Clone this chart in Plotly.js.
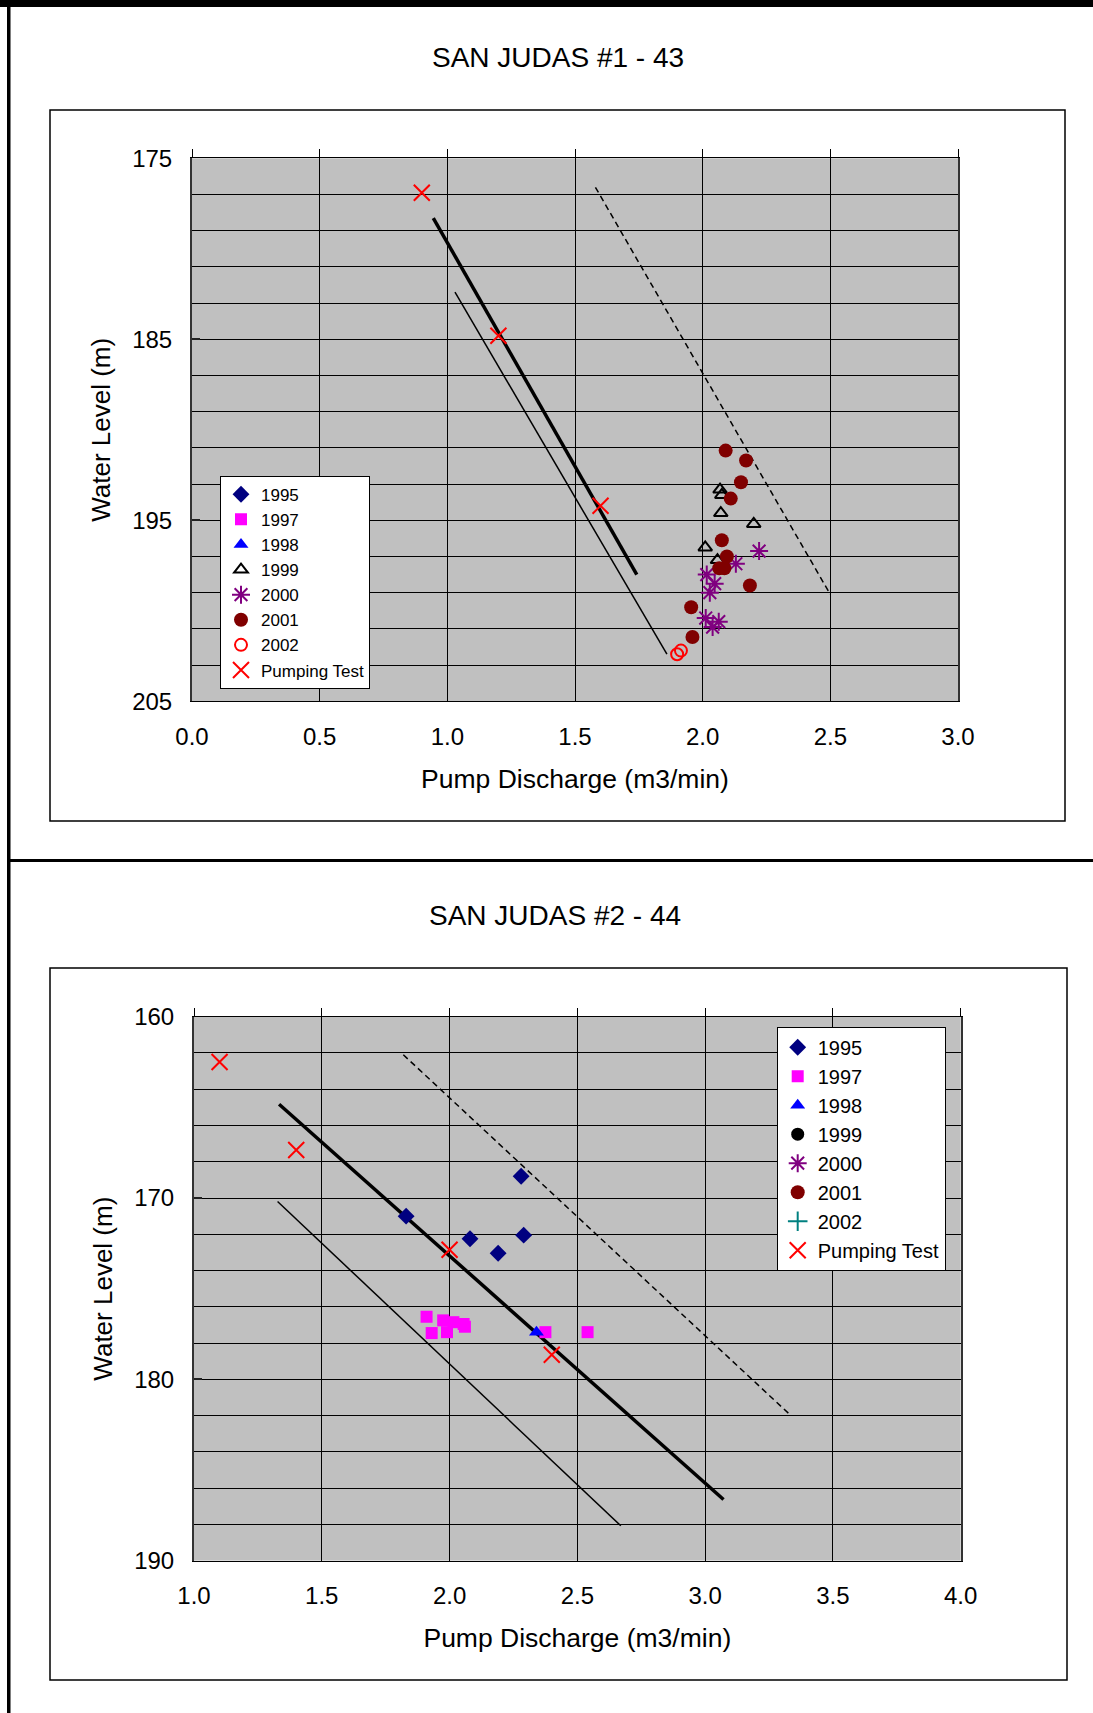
<!DOCTYPE html>
<html>
<head>
<meta charset="utf-8">
<script src="https://cdn.plot.ly/plotly-3.0.1.min.js"></script>
<style>
  html, body { margin: 0; padding: 0; background: #fff; }
  #chart { width: 1093px; height: 1713px; }
</style>
</head>
<body>
<div id="chart"></div>
<script>
// ---------- Chart 1: SAN JUDAS #1 - 43 ----------
const c1_title = "SAN JUDAS #1 - 43";
// series shown only in the legend (no observations on this chart)
const c1_1995_x = [null];
const c1_1995_y = [null];
const c1_1997_x = [null];
const c1_1997_y = [null];
const c1_1998_x = [null];
const c1_1998_y = [null];
const c1_1999_x = [2.068, 2.075, 2.071, 2.20, 2.010, 2.058];
const c1_1999_y = [193.3, 193.6, 194.6, 195.2, 196.5, 197.2];
const c1_2000_x = [2.221, 2.130, 2.016, 2.047, 2.028, 2.012, 2.063, 2.039];
const c1_2000_y = [196.7, 197.4, 198.0, 198.5, 199.0, 200.4, 200.6, 200.9];
const c1_2001_x = [2.09, 2.17, 2.15, 2.11, 2.075, 2.095, 2.065, 2.085, 2.185, 1.955, 1.96];
const c1_2001_y = [191.15, 191.7, 192.9, 193.8, 196.1, 197.0, 197.65, 197.65, 198.6, 199.8, 201.45];
const c1_2002_x = [1.90, 1.915];
const c1_2002_y = [202.4, 202.2];
const c1_test_x = [0.90, 1.20, 1.60];
const c1_test_y = [176.9, 184.8, 194.2];
const c1_thick_x = [0.945, 1.742];
const c1_thick_y = [178.3, 198.0];
const c1_thin_x = [1.03, 1.86];
const c1_thin_y = [182.4, 202.4];
const c1_dash_x = [1.58, 2.50];
const c1_dash_y = [176.6, 199.1];

// ---------- Chart 2: SAN JUDAS #2 - 44 ----------
const c2_title = "SAN JUDAS #2 - 44";
const c2_1995_x = [2.28, 1.83, 2.08, 2.29, 2.19];
const c2_1995_y = [168.8, 171.0, 172.25, 172.05, 173.05];
const c2_1997_x = [1.91, 1.93, 1.975, 1.99, 2.015, 2.055, 2.06, 2.375, 2.54];
const c2_1997_y = [176.55, 177.45, 176.75, 177.4, 176.85, 176.95, 177.1, 177.4, 177.4];
const c2_1998_x = [2.34];
const c2_1998_y = [177.4];
// series shown only in the legend (no observations on this chart)
const c2_1999_x = [null];
const c2_1999_y = [null];
const c2_2000_x = [null];
const c2_2000_y = [null];
const c2_2001_x = [null];
const c2_2001_y = [null];
const c2_2002_x = [null];
const c2_2002_y = [null];
const c2_test_x = [1.10, 1.40, 2.00, 2.40];
const c2_test_y = [162.5, 167.35, 172.85, 178.65];
const c2_thick_x = [1.333, 3.072];
const c2_thick_y = [164.83, 186.63];
const c2_thin_x = [1.327, 2.67];
const c2_thin_y = [170.19, 188.08];
const c2_dash_x = [1.819, 3.328];
const c2_dash_y = [162.1, 181.9];

const xTitle = "Pump Discharge (m3/min)";
const yTitle = "Water Level (m)";

// ---------- layout helpers ----------
const W = 1093, H = 1713;
const px = v => v / W;
const py = v => 1 - v / H;
const FONT = "Liberation Sans, Arial, sans-serif";

function lineTrace(x, y, xa, ya, width, dash) {
  return { x: x, y: y, xaxis: xa, yaxis: ya, type: "scatter", mode: "lines",
    line: { color: "black", width: width, dash: dash || "solid" },
    showlegend: false, hoverinfo: "skip" };
}
function markerTrace(name, x, y, xa, ya, legend, marker) {
  return { name: name, x: x, y: y, xaxis: xa, yaxis: ya, type: "scatter", mode: "markers",
    marker: marker, legend: legend, legendgroup: legend + name, showlegend: true };
}
const M = {
  y1995: { symbol: "diamond", color: "#000080", size: 13 },
  y1997: { symbol: "square", color: "#FF00FF", size: 12 },
  y1998: { symbol: "triangle-up", color: "#0000FF", size: 13 },
  y1999open: { symbol: "triangle-up-open", color: "black", size: 12, line: { width: 2, color: "black" } },
  y1999fill: { symbol: "circle", color: "black", size: 13 },
  y2000: { symbol: "asterisk-open", color: "#800080", size: 15, line: { width: 2, color: "#800080" } },
  y2001: { symbol: "circle", color: "#800000", size: 14 },
  y2002open: { symbol: "circle-open", color: "#FF0000", size: 12, line: { width: 2, color: "#FF0000" } },
  y2002plus: { symbol: "cross-thin-open", color: "#008080", size: 14, line: { width: 2, color: "#008080" } },
  test: { symbol: "x-thin-open", color: "#FF0000", size: 16, line: { width: 2, color: "#FF0000" } }
};

const data = [
  lineTrace(c1_thin_x, c1_thin_y, "x", "y", 1.5),
  lineTrace(c1_thick_x, c1_thick_y, "x", "y", 3.5),
  lineTrace(c1_dash_x, c1_dash_y, "x", "y", 1.5, "6px,4px"),
  markerTrace("1995", c1_1995_x, c1_1995_y, "x", "y", "legend", M.y1995),
  markerTrace("1997", c1_1997_x, c1_1997_y, "x", "y", "legend", M.y1997),
  markerTrace("1998", c1_1998_x, c1_1998_y, "x", "y", "legend", M.y1998),
  markerTrace("1999", c1_1999_x, c1_1999_y, "x", "y", "legend", M.y1999open),
  markerTrace("2000", c1_2000_x, c1_2000_y, "x", "y", "legend", M.y2000),
  markerTrace("2001", c1_2001_x, c1_2001_y, "x", "y", "legend", M.y2001),
  markerTrace("2002", c1_2002_x, c1_2002_y, "x", "y", "legend", M.y2002open),
  markerTrace("Pumping Test", c1_test_x, c1_test_y, "x", "y", "legend", M.test),
  { x: [], y: [], xaxis: "x3", yaxis: "y", type: "scatter", mode: "markers", showlegend: false, hoverinfo: "skip" },

  lineTrace(c2_thin_x, c2_thin_y, "x2", "y2", 1.5),
  lineTrace(c2_thick_x, c2_thick_y, "x2", "y2", 3.5),
  lineTrace(c2_dash_x, c2_dash_y, "x2", "y2", 1.5, "6px,4px"),
  markerTrace("1995", c2_1995_x, c2_1995_y, "x2", "y2", "legend2", M.y1995),
  markerTrace("1997", c2_1997_x, c2_1997_y, "x2", "y2", "legend2", M.y1997),
  markerTrace("1998", c2_1998_x, c2_1998_y, "x2", "y2", "legend2", M.y1998),
  markerTrace("1999", c2_1999_x, c2_1999_y, "x2", "y2", "legend2", M.y1999fill),
  markerTrace("2000", c2_2000_x, c2_2000_y, "x2", "y2", "legend2", M.y2000),
  markerTrace("2001", c2_2001_x, c2_2001_y, "x2", "y2", "legend2", M.y2001),
  markerTrace("2002", c2_2002_x, c2_2002_y, "x2", "y2", "legend2", M.y2002plus),
  markerTrace("Pumping Test", c2_test_x, c2_test_y, "x2", "y2", "legend2", M.test),
  { x: [], y: [], xaxis: "x4", yaxis: "y2", type: "scatter", mode: "markers", showlegend: false, hoverinfo: "skip" }
];

function xAxis(domain, anchor, range) {
  return { domain: domain, anchor: anchor, range: range, dtick: 0.5, tick0: 0, tickformat: ".1f",
    showgrid: true, gridcolor: "black", gridwidth: 1, zeroline: false,
    showline: true, linecolor: "black", linewidth: 1, mirror: true, ticks: "",
    tickfont: { size: 24, color: "black" }, ticklabelstandoff: 14,
    title: { text: xTitle, font: { size: 26.5, color: "black" }, standoff: 20 } };
}
function yAxis(domain, anchor, range, tick0) {
  return { domain: domain, anchor: anchor, range: range, dtick: 10, tick0: tick0,
    showgrid: true, gridcolor: "black", gridwidth: 1, zeroline: false,
    minor: { dtick: 2, tick0: tick0, showgrid: true, gridcolor: "black", gridwidth: 1 },
    showline: true, linecolor: "#333", linewidth: 2, mirror: true,
    ticks: "inside", ticklen: 8, tickwidth: 2, tickcolor: "#222",
    tickfont: { size: 24, color: "black" }, ticklabelstandoff: 13,
    title: { text: yTitle, font: { size: 26, color: "black" }, standoff: 14 } };
}
function topTicks(over, anchor, range) {
  return { overlaying: over, matches: over, anchor: anchor, side: "top", range: range,
    dtick: 0.5, tick0: 0, ticks: "outside", ticklen: 8, tickwidth: 1, tickcolor: "black",
    showticklabels: false, showgrid: false, showline: false, zeroline: false };
}

const layout = {
  width: W, height: H,
  margin: { l: 0, r: 0, t: 0, b: 0, pad: 0 },
  paper_bgcolor: "white",
  plot_bgcolor: "#C0C0C0",
  font: { family: FONT, color: "black" },
  showlegend: true,
  xaxis: xAxis([px(192), px(958)], "y", [0, 3]),
  yaxis: yAxis([py(701.3), py(158.3)], "x", [205, 175], 175),
  xaxis3: topTicks("x", "y", [0, 3]),
  xaxis2: xAxis([px(194), px(960.7)], "y2", [1, 4]),
  yaxis2: yAxis([py(1560.6), py(1016.7)], "x2", [190, 160], 160),
  xaxis4: topTicks("x2", "y2", [1, 4]),
  legend: { x: px(220), y: py(475.7), xanchor: "left", yanchor: "top",
    bgcolor: "white", bordercolor: "black", borderwidth: 1,
    font: { size: 17, color: "black" }, itemwidth: 30, tracegroupgap: 0, traceorder: "grouped" },
  legend2: { x: px(776.7), y: py(1026.7), xanchor: "left", yanchor: "top",
    bgcolor: "white", bordercolor: "black", borderwidth: 1,
    font: { size: 20, color: "black" }, itemwidth: 30, tracegroupgap: 0, traceorder: "grouped" },
  annotations: [
    { text: c1_title, xref: "paper", yref: "paper", x: px(558), y: py(57),
      xanchor: "center", yanchor: "middle", showarrow: false, font: { size: 28, color: "black" } },
    { text: c2_title, xref: "paper", yref: "paper", x: px(555), y: py(915),
      xanchor: "center", yanchor: "middle", showarrow: false, font: { size: 28, color: "black" } }
  ],
  shapes: [
    // outer frame
    { type: "rect", xref: "paper", yref: "paper", x0: 0, x1: 1, y0: py(7), y1: 1,
      fillcolor: "black", line: { width: 0 } },
    { type: "rect", xref: "paper", yref: "paper", x0: px(7), x1: px(10.5), y0: 0, y1: 1,
      fillcolor: "black", line: { width: 0 } },
    { type: "rect", xref: "paper", yref: "paper", x0: px(7), x1: 1, y0: py(862), y1: py(859),
      fillcolor: "black", line: { width: 0 } },
    // chart area boxes
    { type: "rect", xref: "paper", yref: "paper", x0: px(50), x1: px(1065), y0: py(821), y1: py(110),
      line: { color: "black", width: 1.5 }, fillcolor: "rgba(0,0,0,0)", layer: "below" },
    { type: "rect", xref: "paper", yref: "paper", x0: px(50), x1: px(1067), y0: py(1680), y1: py(968),
      line: { color: "black", width: 1.5 }, fillcolor: "rgba(0,0,0,0)", layer: "below" }
  ]
};

Plotly.newPlot("chart", data, layout, { staticPlot: true, displayModeBar: false });
</script>
</body>
</html>
